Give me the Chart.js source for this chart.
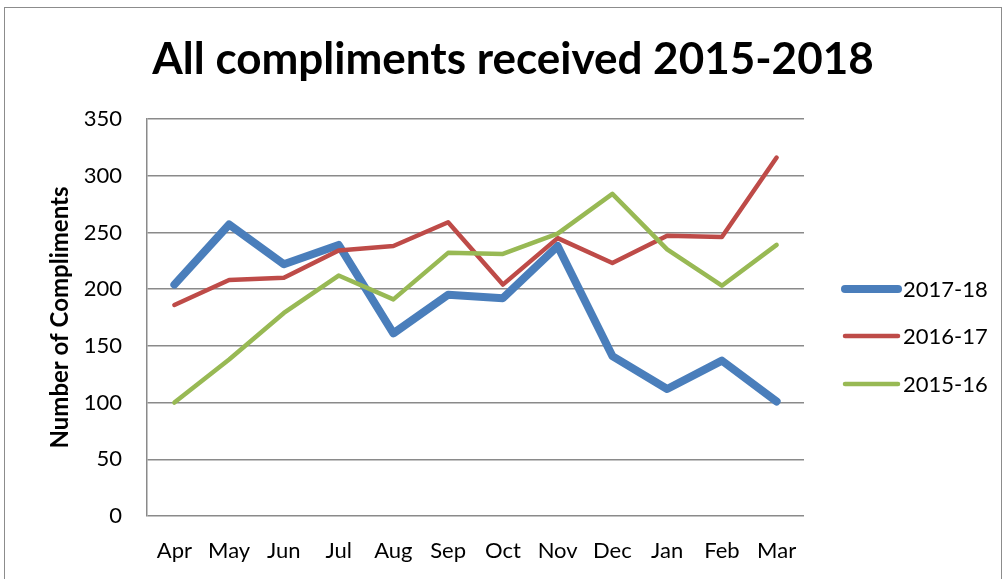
<!DOCTYPE html>
<html>
<head>
<meta charset="utf-8">
<script src="https://cdn.jsdelivr.net/npm/chart.js@4.4.1/dist/chart.umd.min.js"></script>
<style>
  html, body { margin: 0; padding: 0; background: #ffffff; }
  #wrap { width: 1007px; height: 579px; }
</style>
</head>
<body>
<div id="wrap"><canvas id="c" width="1007" height="579"></canvas></div>
<script>
const months = ['Apr', 'May', 'Jun', 'Jul', 'Aug', 'Sep', 'Oct', 'Nov', 'Dec', 'Jan', 'Feb', 'Mar'];
const seriesNames = ['2017-18', '2016-17', '2015-16'];
const compliments2017 = [204, 257, 222, 239, 161, 195, 192, 238, 141, 112, 137, 101];
const compliments2016 = [186, 208, 210, 234, 238, 259, 204, 245, 223, 247, 246, 316];
const compliments2015 = [100, 138, 179, 212, 191, 232, 231, 249, 284, 235, 203, 239];
const yTicks = [0, 50, 100, 150, 200, 250, 300, 350];

const titleText = 'All compliments received 2015-2018';
const FONT = 'Lato, "Noto Sans", sans-serif';
const GRID = '#8a8a8a';

// Outer frame, chart title and the legend on the right
const decorations = {
  id: 'decorations',
  beforeDraw(chart) {
    const ctx = chart.ctx;
    ctx.save();
    ctx.fillStyle = '#ffffff';
    ctx.fillRect(0, 0, chart.width, chart.height);
    ctx.strokeStyle = '#8c8c8c';
    ctx.lineWidth = 1;
    ctx.strokeRect(4.5, 7.5, 997, 600);
    ctx.restore();
  },
  afterDraw(chart) {
    const ctx = chart.ctx;
    ctx.save();
    ctx.fillStyle = '#000000';
    ctx.textAlign = 'center';
    ctx.textBaseline = 'alphabetic';
    ctx.font = 'bold 44px ' + FONT;
    ctx.fillText(titleText, 513, 74);

    const rows = [289, 336, 384];
    chart.data.datasets.forEach((ds, i) => {
      const y = rows[i];
      ctx.strokeStyle = ds.borderColor;
      ctx.lineWidth = ds.borderWidth;
      ctx.lineCap = 'round';
      ctx.beginPath();
      ctx.moveTo(845, y);
      ctx.lineTo(898, y);
      ctx.stroke();
      ctx.fillStyle = '#000000';
      ctx.font = '22px ' + FONT;
      ctx.textAlign = 'left';
      ctx.textBaseline = 'middle';
      ctx.fillText(ds.label, 903, y + 1);
    });
    ctx.restore();
  }
};

const lineStyle = {
  fill: false,
  tension: 0,
  pointRadius: 0,
  pointHoverRadius: 0,
  borderJoinStyle: 'round',
  borderCapStyle: 'round'
};

new Chart(document.getElementById('c'), {
  type: 'line',
  data: {
    labels: months,
    datasets: [
      Object.assign({ label: seriesNames[0], data: compliments2017, borderColor: '#4a7ebb', borderWidth: 8, order: 3 }, lineStyle),
      Object.assign({ label: seriesNames[1], data: compliments2016, borderColor: '#be4b48', borderWidth: 4.5, order: 2 }, lineStyle),
      Object.assign({ label: seriesNames[2], data: compliments2015, borderColor: '#98b954', borderWidth: 4.5, order: 1 }, lineStyle)
    ]
  },
  options: {
    responsive: false,
    animation: false,
    events: [],
    layout: { padding: { top: 119, right: 203, bottom: 0, left: 0 } },
    plugins: {
      legend: { display: false },
      title: { display: false },
      tooltip: { enabled: false }
    },
    scales: {
      x: {
        type: 'category',
        offset: true,
        grid: { display: false, drawTicks: false },
        border: { display: false },
        ticks: { color: '#000000', font: { family: FONT, size: 22 }, padding: 22, maxRotation: 0, autoSkip: false },
        afterFit(scale) { scale.height = 63; }
      },
      y: {
        min: 0,
        max: 350,
        afterBuildTicks(scale) { scale.ticks = yTicks.map(v => ({ value: v })); },
        grid: { color: GRID, lineWidth: 1.5, drawTicks: false },
        border: { display: true, color: GRID, width: 1.5 },
        ticks: { color: '#000000', font: { family: FONT, size: 22 }, padding: 25 },
        title: {
          display: true,
          text: 'Number of Compliments',
          color: '#000000',
          font: { family: FONT, size: 24, weight: 'bold' },
          padding: { top: 46, bottom: 0 }
        },
        afterFit(scale) { scale.width = 147; }
      }
    }
  },
  plugins: [decorations]
});
</script>
</body>
</html>
